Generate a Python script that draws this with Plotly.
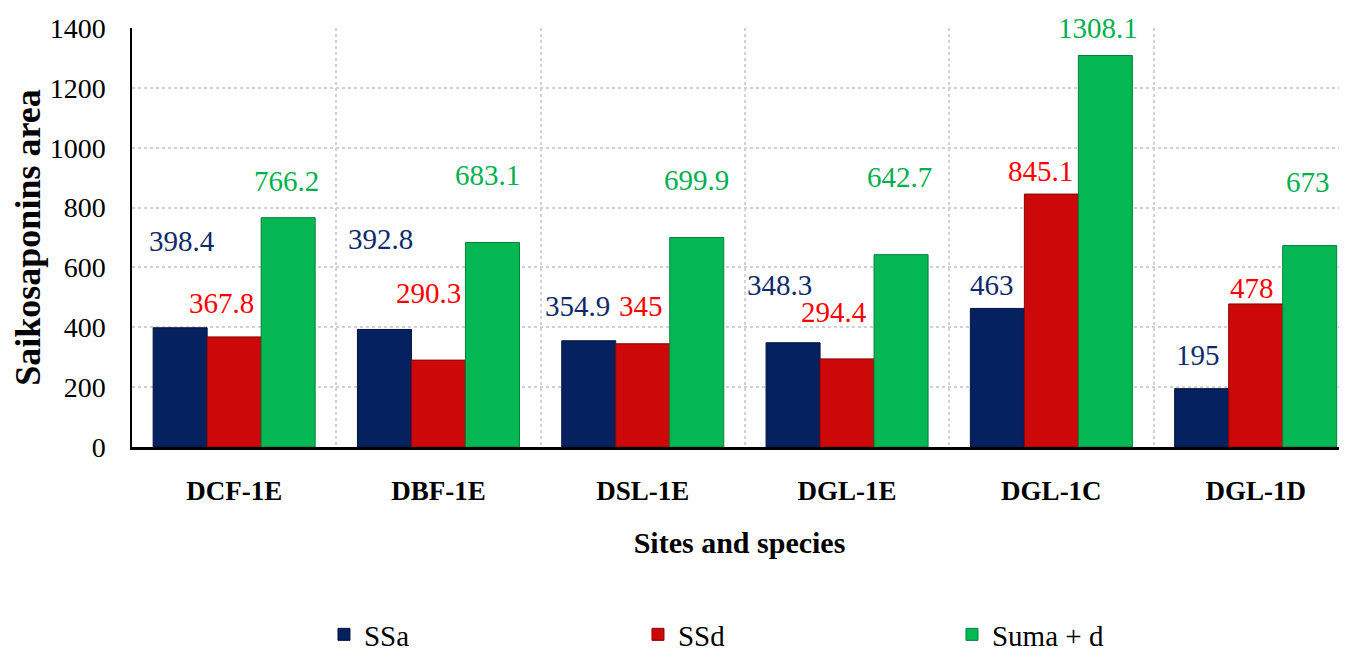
import plotly.graph_objs as go

# Data
categories = ["DCF-1E", "DBF-1E", "DSL-1E", "DGL-1E", "DGL-1C", "DGL-1D"]
ssa = [398.4, 392.8, 354.9, 348.3, 463, 195]
ssd = [367.8, 290.3, 345, 294.4, 845.1, 478]
suma = [766.2, 683.1, 699.9, 642.7, 1308.1, 673]
y_ticks = [0, 200, 400, 600, 800, 1000, 1200, 1400]

SERIES = [
    ("SSa", ssa, "#06215f", "#03143d", "#0e2a6b"),
    ("SSd", ssd, "#cc0808", "#8a0505", "#ff0000"),
    ("Suma + d", suma, "#05b853", "#03803a", "#00b050"),
]

# Value labels are placed by hand in the original, so keep the pixel shifts
# (relative to the top centre of each bar) here
BAR_OFFSET = [-54, 0, 54]
LABEL_DX = [
    [2, -4, -11, -14, -5, -4],
    [-13, -10, -2, -13, -11, -4],
    [-2, -5, 0, -2, -7, -2],
]
LABEL_DY = [
    [87, 90, 35, 58, 23, 34],
    [34, 67, 38, 47, 23, 16],
    [37, 68, 58, 78, 28, 64],
]

SERIF = "Liberation Serif"
TIMES = "Times New Roman"

fig = go.Figure()

for name, values, color, edge, _ in SERIES:
    fig.add_trace(go.Bar(
        x=categories,
        y=values,
        name=name,
        marker=dict(color=color, line=dict(color=edge, width=1)),
    ))

for j, (name, values, _, _, text_color) in enumerate(SERIES):
    for i, (cat, val) in enumerate(zip(categories, values)):
        fig.add_annotation(
            x=cat, y=val, xref="x", yref="y",
            text=f"{val:g}",
            showarrow=False,
            xanchor="center", yanchor="middle",
            xshift=BAR_OFFSET[j] + LABEL_DX[j][i],
            yshift=LABEL_DY[j][i],
            font=dict(family=TIMES, size=29, color=text_color),
        )

# page body has an 8px margin, so the figure is sized to end at the window edge
fig.update_layout(
    width=1339,
    height=652,
    margin=dict(l=124, r=0, t=20, b=213),
    paper_bgcolor="white",
    plot_bgcolor="white",
    barmode="group",
    bargap=0.207,
    bargroupgap=0,
    font=dict(family=SERIF, color="black"),
    xaxis=dict(
        range=[-0.5, 5.447],
        tickson="boundaries",
        ticks="",
        showgrid=True,
        gridcolor="#d2d2d2",
        griddash="dot",
        gridwidth=1.5,
        showline=True,
        linecolor="black",
        linewidth=2.5,
        tickfont=dict(family=SERIF, size=27, color="black", weight="bold"),
        ticklabelstandoff=18,
        title=dict(
            text="<b>Sites and species</b>",
            font=dict(family=SERIF, size=30, color="black"),
            standoff=27,
        ),
    ),
    yaxis=dict(
        range=[0, 1400],
        tickvals=y_ticks,
        ticks="",
        showgrid=True,
        gridcolor="#d2d2d2",
        griddash="dot",
        gridwidth=1.5,
        zeroline=False,
        showline=True,
        linecolor="black",
        linewidth=1.5,
        tickfont=dict(family=SERIF, size=28, color="black"),
        ticklabelstandoff=19,
        title=dict(
            text="<b>Saikosaponins area</b>",
            font=dict(family=SERIF, size=36, color="black"),
            standoff=10,
        ),
    ),
    showlegend=True,
    legend=dict(
        orientation="h",
        x=0.158,
        y=-0.017,
        xref="paper",
        yref="container",
        xanchor="left",
        yanchor="bottom",
        entrywidth=269,
        entrywidthmode="pixels",
        font=dict(family=TIMES, size=29, color="black"),
        bgcolor="rgba(0,0,0,0)",
    ),
)

fig.write_html("out.html")
